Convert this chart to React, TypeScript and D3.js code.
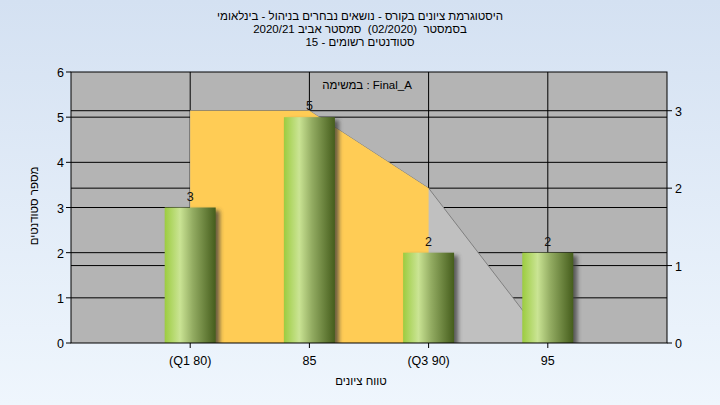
import React from "react";
import * as d3 from "d3";

const titleLines = [
  "היסטוגרמת ציונים בקורס - נושאים נבחרים בניהול - בינלאומי",
  "בסמסטר  (02/2020)  סמסטר אביב 2020/21",
  "סטודנטים רשומים - 15",
];
const xTickValues = [80, 85, 90, 95];
const xTickLabels = ["(Q1 80)", "85", "(Q3 90)", "95"];
const barValues = [3, 5, 2, 2];
const areaValues = [3, 3, 2, 0];
const leftTicks = [0, 1, 2, 3, 4, 5, 6];
const rightTicks = [0, 1, 2, 3];
const legendText = "במשימה : Final_A";
const yTitle = "מספר סטודנטים";
const xTitle = "טווח ציונים";

const W = 720, H = 405;
const L = 71, R = 667, T = 72, B = 343;
const FONT = "'Liberation Sans', Arial, sans-serif";

export default function App() {
  const x = d3.scaleLinear().domain([75, 100]).range([L, R]);
  const yL = d3.scaleLinear().domain([0, 6]).range([B, T]);
  const yR = d3.scaleLinear().domain([0, 3.5]).range([B, T]);
  const pts = xTickValues.map((v, i) => ({ x: v, y: areaValues[i] }));
  const area = d3.area<{ x: number; y: number }>()
    .x(d => x(d.x)).y0(B).y1(d => yR(d.y));
  const line = d3.line<{ x: number; y: number }>().x(d => x(d.x)).y(d => yR(d.y));
  const yellowPts = pts.filter(p => p.x <= 90);
  const barW = 51;

  return (
    <svg width={W} height={H} style={{ position: "absolute", left: 0, top: 0 }} fontFamily={FONT}>
      <defs>
        <linearGradient id="bg" x1="0" y1="0" x2="0" y2="1">
          <stop offset="0" stopColor="#D4E1F2" />
          <stop offset="1" stopColor="#EFF6FD" />
        </linearGradient>
        <linearGradient id="bar" x1="0" y1="0" x2="1" y2="0">
          <stop offset="0" stopColor="#9CCC40" />
          <stop offset="0.3" stopColor="#CAE494" />
          <stop offset="0.55" stopColor="#93AC62" />
          <stop offset="1" stopColor="#455D1C" />
        </linearGradient>
        <filter id="shadow" x="-20%" y="-20%" width="150%" height="140%">
          <feGaussianBlur stdDeviation="2" />
        </filter>
        <clipPath id="plot">
          <rect x={L} y={T} width={R - L} height={B - T} />
        </clipPath>
      </defs>
      <rect x={0} y={0} width={W} height={H} fill="url(#bg)" />
      <rect x={L} y={T} width={R - L} height={B - T} fill="#B4B4B4" />
      {/* grid lines */}
      {leftTicks.filter(t => t > 0 && t < 6).map(t => (
        <line key={"gl" + t} x1={L} x2={R} y1={yL(t)} y2={yL(t)} stroke="#000" />
      ))}
      {rightTicks.filter(t => t > 0).map(t => (
        <line key={"gr" + t} x1={L} x2={R} y1={yR(t)} y2={yR(t)} stroke="#000" />
      ))}
      {xTickValues.map(t => (
        <line key={"gv" + t} x1={x(t)} x2={x(t)} y1={T} y2={B} stroke="#000" />
      ))}
      {/* areas */}
      <g clipPath="url(#plot)">
        <path d={area(pts) || ""} fill="#C0C0C0" />
        <path d={line(pts) || ""} fill="none" stroke="#808080" />
        <path d={area(yellowPts) || ""} fill="#FFCC55" />
      </g>
      {/* legend text */}
      <text x={367} y={89} textAnchor="middle" fontSize={11.5} fill="#000">{legendText}</text>
      {/* bars */}
      {xTickValues.map((v, i) => (
        <g key={"b" + v}>
          <rect x={x(v) - barW / 2 + 4} y={yL(barValues[i]) + 3} width={barW} height={B - yL(barValues[i])}
            fill="#3a3a3a" opacity={0.75} filter="url(#shadow)" clipPath="url(#plot)" />
          <rect x={x(v) - barW / 2} y={yL(barValues[i])} width={barW} height={B - yL(barValues[i])} fill="url(#bar)" />
          <text x={x(v)} y={yL(barValues[i]) - 7} textAnchor="middle" fontSize={12.5} fill="#111">{barValues[i]}</text>
        </g>
      ))}
      {/* frame */}
      <rect x={L} y={T} width={R - L} height={B - T} fill="none" stroke="#000" />
      {/* left axis */}
      {leftTicks.map(t => (
        <g key={"lt" + t}>
          <line x1={L - 5} x2={L} y1={yL(t)} y2={yL(t)} stroke="#000" />
          <text x={L - 7} y={yL(t) + 5} textAnchor="end" fontSize={12.5} fill="#000">{t}</text>
        </g>
      ))}
      {/* right axis */}
      {rightTicks.map(t => (
        <g key={"rt" + t}>
          <line x1={R} x2={R + 5} y1={yR(t)} y2={yR(t)} stroke="#000" />
          <text x={R + 8} y={yR(t) + 5} textAnchor="start" fontSize={12.5} fill="#000">{t}</text>
        </g>
      ))}
      {/* bottom axis */}
      {xTickValues.map((t, i) => (
        <g key={"bt" + t}>
          <line x1={x(t)} x2={x(t)} y1={B} y2={B + 5} stroke="#000" />
          <text x={x(t)} y={365} textAnchor="middle" fontSize={12.5} fill="#000">{xTickLabels[i]}</text>
        </g>
      ))}
      {/* axis titles */}
      <text x={361} y={385} textAnchor="middle" fontSize={11.5} fill="#000">{xTitle}</text>
      <text transform={`translate(38,206) rotate(-90)`} textAnchor="middle" fontSize={11.5} fill="#000">{yTitle}</text>
      {/* title */}
      {titleLines.map((ln, i) => (
        <text key={"t" + i} x={360} y={20 + i * 13} textAnchor="middle" fontSize={11.5} fill="#000"
          style={{ whiteSpace: "pre" }}>{ln}</text>
      ))}
    </svg>
  );
}
